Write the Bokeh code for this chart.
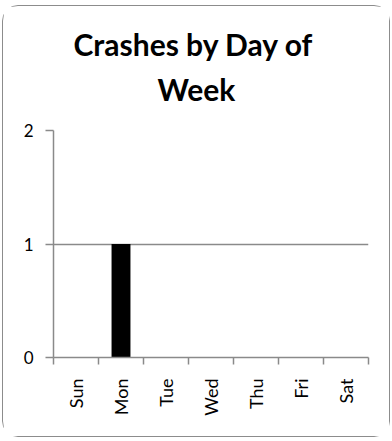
from bokeh.plotting import figure
from bokeh.models import Range1d, LinearAxis, FixedTicker, Title, ColumnDataSource
from bokeh.embed import file_html
from bokeh.resources import INLINE
import math

days = ["Sun", "Mon", "Tue", "Wed", "Thu", "Fri", "Sat"]
crashes = [0, 1, 0, 0, 0, 0, 0]
y_ticks = [0, 1, 2]
title_lines = ["Crashes by Day of", "Week"]

FONT = "Lato"
GREY = "#8a8a8a"

centers = [i + 0.5 for i in range(len(days))]
bounds = list(range(len(days) + 1))
src = ColumnDataSource(dict(x=centers, n=crashes, day=days))

p = figure(
    x_range=Range1d(0, len(days)),
    y_range=Range1d(0, max(y_ticks)),
    frame_width=315, frame_height=227,
    min_border_left=50, min_border_right=21, min_border_top=124, min_border_bottom=79,
    output_backend="svg", toolbar_location=None,
    x_axis_location=None, y_axis_location=None,
)
p.title = None
p.outline_line_color = None
p.background_fill_color = "white"
p.border_fill_color = "white"

p.vbar(x="x", top="n", width=0.42, source=src, fill_color="black", line_color=None)

# y axis
yax = LinearAxis(ticker=FixedTicker(ticks=y_ticks))
yax.axis_line_color = GREY
yax.axis_line_width = 1.5
yax.major_tick_line_color = GREY
yax.major_tick_line_width = 1.5
yax.major_tick_out = 8
yax.major_tick_in = 0
yax.minor_tick_line_color = None
yax.major_label_text_font = FONT
yax.major_label_text_font_size = "17px"
yax.major_label_text_color = "black"
yax.major_label_standoff = 12
p.add_layout(yax, "left")

# x axis: labels at centres, minor ticks at category boundaries
xax = LinearAxis(ticker=FixedTicker(ticks=centers, minor_ticks=bounds),
                 major_label_overrides={c: d for c, d in zip(centers, days)})
xax.axis_line_color = GREY
xax.axis_line_width = 1.5
xax.major_tick_line_color = None
xax.major_tick_out = 7
xax.major_tick_in = 0
xax.minor_tick_line_color = GREY
xax.minor_tick_line_width = 1.5
xax.minor_tick_out = 7
xax.minor_tick_in = 0
xax.major_label_orientation = math.pi / 2
xax.major_label_text_font = FONT
xax.major_label_text_font_size = "18px"
xax.major_label_text_color = "black"
xax.major_label_standoff = 14
p.add_layout(xax, "below")

p.xgrid.grid_line_color = None
p.ygrid.ticker = FixedTicker(ticks=y_ticks)
p.ygrid.grid_line_color = GREY
p.ygrid.grid_line_width = 1.5

spacer = Title(text=" ", text_font=FONT, text_font_size="12px", standoff=0,
               text_line_height=1.0)
p.add_layout(spacer, "above")
t2 = Title(text=title_lines[1], align="left", offset=104, text_font=FONT, text_font_size="30px",
           text_font_style="bold", text_color="black", standoff=14,
           text_line_height=1.0)
p.add_layout(t2, "above")
t1 = Title(text=title_lines[0], align="left", offset=20, text_font=FONT, text_font_size="30px",
           text_font_style="bold", text_color="black", standoff=0,
           text_line_height=1.0)
p.add_layout(t1, "above")

p.styles = {"border": "1.5px solid #8c8c8c", "border-radius": "16px",
            "margin-left": "2px", "margin-top": "5px"}

open("out.html", "w").write(file_html(p, INLINE))
